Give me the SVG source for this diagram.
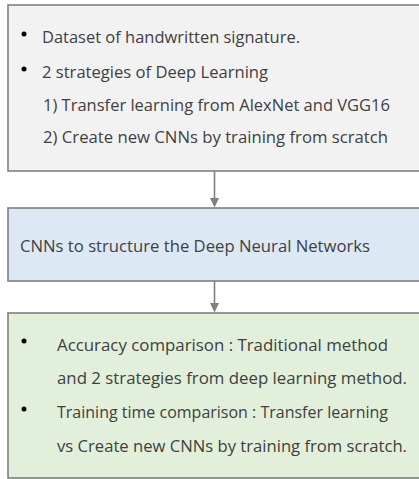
<svg xmlns="http://www.w3.org/2000/svg" width="419" height="479" viewBox="0 0 419 479">
  <style>
    .box { stroke: #7f7f7f; stroke-width: 1.6; }
    .txt { font-family: "Open Sans", "Noto Sans", "DejaVu Sans", sans-serif; font-size: 15.5px; fill: #404040; }
    .dot { fill: #000000; }
    .link { stroke: #7f7f7f; stroke-width: 1.6; fill: none; }
    .head { fill: #7f7f7f; }
  </style>
  <rect x="0" y="0" width="419" height="479" fill="#ffffff"/>

  <!-- input data and strategies -->
  <g id="node-input">
    <rect class="box" x="8" y="5" width="430" height="166" fill="#f2f2f2"/>
    <circle class="dot" cx="24" cy="34" r="2.5"/>
    <text class="txt" x="42" y="43" textLength="258" lengthAdjust="spacingAndGlyphs">Dataset of handwritten signature.</text>
    <circle class="dot" cx="24" cy="69" r="2.5"/>
    <text class="txt" x="42" y="78" textLength="226" lengthAdjust="spacingAndGlyphs">2 strategies of Deep Learning</text>
    <text class="txt" x="43" y="111" textLength="347" lengthAdjust="spacingAndGlyphs">1) Transfer learning from AlexNet and VGG16</text>
    <text class="txt" x="43" y="143" textLength="345" lengthAdjust="spacingAndGlyphs">2) Create new CNNs by training from scratch</text>
  </g>

  <!-- network structure -->
  <g id="node-cnn">
    <rect class="box" x="8" y="208" width="430" height="73" fill="#dde8f5"/>
    <text class="txt" x="20" y="252" textLength="350" lengthAdjust="spacingAndGlyphs">CNNs to structure the Deep Neural Networks</text>
  </g>

  <!-- comparisons -->
  <g id="node-results">
    <rect class="box" x="8" y="313" width="430" height="165" fill="#e2efda"/>
    <circle class="dot" cx="24" cy="341" r="2.5"/>
    <text class="txt" x="57" y="351" textLength="331" lengthAdjust="spacingAndGlyphs">Accuracy comparison : Traditional method</text>
    <text class="txt" x="57" y="384" textLength="350" lengthAdjust="spacingAndGlyphs">and 2 strategies from deep learning method.</text>
    <circle class="dot" cx="24" cy="409" r="2.5"/>
    <text class="txt" x="57" y="418" textLength="331" lengthAdjust="spacingAndGlyphs">Training time comparison : Transfer learning</text>
    <text class="txt" x="57" y="452" textLength="350" lengthAdjust="spacingAndGlyphs">vs Create new CNNs by training from scratch.</text>
  </g>

  <!-- connectors -->
  <g id="connectors">
    <line class="link" x1="214.5" y1="171" x2="214.5" y2="199"/>
    <polygon class="head" points="210,198 219,198 214.5,207.5"/>
    <line class="link" x1="214.5" y1="281" x2="214.5" y2="304"/>
    <polygon class="head" points="210,303 219,303 214.5,312.5"/>
  </g>
</svg>
